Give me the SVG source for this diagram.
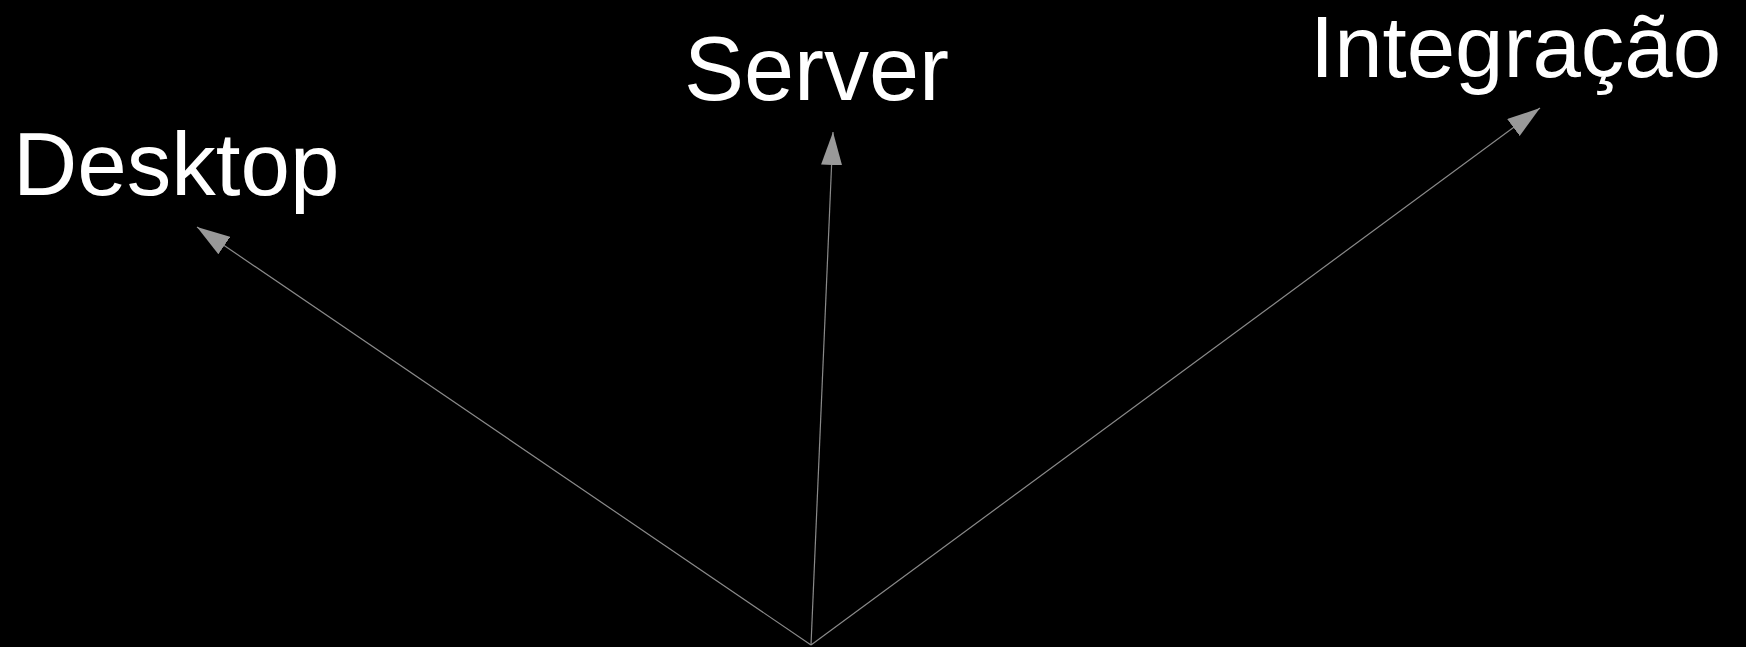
<svg xmlns="http://www.w3.org/2000/svg" width="1746" height="647" viewBox="0 0 1746 647">
<style>
.lbl{font-family:"Liberation Sans",Arial,sans-serif;font-size:88px;fill:#ffffff}
.conn{stroke:#8a8a8a;stroke-width:1.2;fill:none;marker-end:url(#ah)}
</style>
<defs>
<marker id="ah" markerUnits="userSpaceOnUse" markerWidth="34" markerHeight="22" refX="33" refY="10.5" orient="auto">
<path d="M0,0 L33,10.5 L0,21 Z" fill="#999999"/>
</marker>
</defs>
<rect x="0" y="0" width="1746" height="647" fill="#000000"/>
<g id="desktop"><text class="lbl" x="13" y="195" style="font-size:89px">Desktop</text></g>
<g id="server"><text class="lbl" x="684" y="100" style="font-size:90px">Server</text></g>
<g id="integracao"><text class="lbl" x="1310" y="77" style="font-size:87px">Integração</text></g>
<g id="connectors">
<line class="conn" x1="811" y1="645" x2="197" y2="227"/>
<line class="conn" x1="811" y1="645" x2="833" y2="132"/>
<line class="conn" x1="811" y1="645" x2="1540" y2="108"/>
</g>
</svg>
